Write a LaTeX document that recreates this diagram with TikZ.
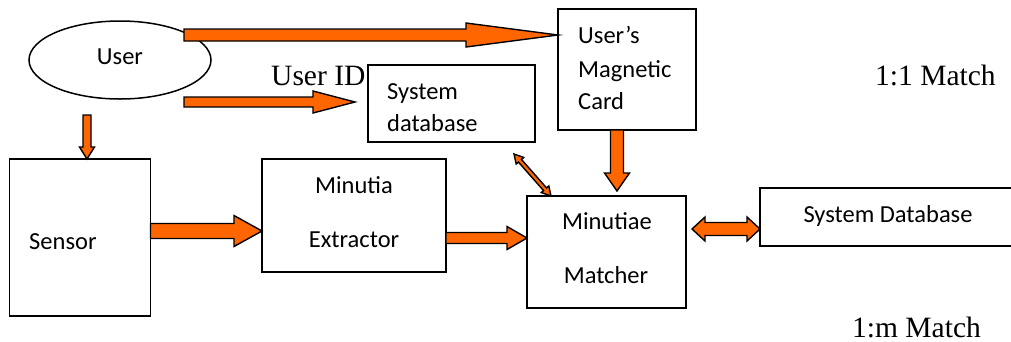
\documentclass[tikz,border=0pt]{standalone}
\usepackage{fontspec}
\usetikzlibrary{calc,shapes.geometric}
\newfontfamily\calfont{Carlito}
\newfontfamily\timesfont{Liberation Serif}
\definecolor{orng}{RGB}{255,102,0}
\newcommand\blockarrow[5]{%
  \coordinate (bah) at ($(#2)!#5!(#1)$);
  \draw[arr] ($(#1)!#3!90:(#2)$) -- ($(bah)!#3!90:(#2)$) -- ($(bah)!#4!90:(#2)$) -- (#2)
    -- ($(bah)!#4!-90:(#2)$) -- ($(bah)!#3!-90:(#2)$) -- ($(#1)!#3!-90:(#2)$) -- cycle;}
\newcommand\dblarrow[5]{%
  \coordinate (dah) at ($(#1)!#5!(#2)$);
  \coordinate (dbh) at ($(#2)!#5!(#1)$);
  \draw[arr] (#1) -- ($(dah)!#4!90:(#2)$) -- ($(dah)!#3!90:(#2)$) -- ($(dbh)!#3!90:(#2)$)
    -- ($(dbh)!#4!90:(#2)$) -- (#2) -- ($(dbh)!#4!-90:(#2)$) -- ($(dbh)!#3!-90:(#2)$)
    -- ($(dah)!#3!-90:(#2)$) -- ($(dah)!#4!-90:(#2)$) -- cycle;}
\begin{document}
\begin{tikzpicture}[x=1pt,y=-1pt,
  box/.style={draw, line width=1.5pt, inner sep=0pt, outer sep=0pt, anchor=north west},
  arr/.style={draw=black, fill=orng, line width=1.4pt, line join=miter},
  ctext/.style={inner sep=0pt, font=\calfont\fontsize{24.5}{30}\selectfont},
  ttext/.style={inner sep=0pt, font=\timesfont\fontsize{29.5}{34}\selectfont}]
\useasboundingbox (0,0) rectangle (1011,341);
% shapes
\node[draw, line width=1.5pt, ellipse, inner sep=0pt, minimum width=182pt, minimum height=78pt] (user) at (120,60) {};
\node[box, minimum width=138pt, minimum height=121pt] (card) at (558,9) {};
\node[box, minimum width=167pt, minimum height=77pt] (sysdb) at (368,65) {};
\node[box, minimum width=141pt, minimum height=157pt] (sensor) at (9.5,159) {};
\node[box, minimum width=184pt, minimum height=113pt] (extractor) at (262,159) {};
\node[box, minimum width=159pt, minimum height=112pt] (matcher) at (527,196) {};
\node[box, minimum width=270pt, minimum height=58pt] (sysdb2) at (760,188) {};
% texts
\node[ctext, anchor=base] (usertxt) at (120,64) {User};
\node[ctext, anchor=base west] (card1) at (578,43) {User’s};
\node[ctext, anchor=base west] (card2) at (578,77) {Magnetic};
\node[ctext, anchor=base west] (card3) at (578,109) {Card};
\node[ctext, anchor=base west] (sys1) at (387,99) {System};
\node[ctext, anchor=base west] (sys2) at (387,131) {database};
\node[ctext, anchor=base west] (sensortxt) at (29,249) {Sensor};
\node[ctext, anchor=base] (ext1) at (354,193) {Minutia};
\node[ctext, anchor=base] (ext2) at (354,247) {Extractor};
\node[ctext, anchor=base] (mat1) at (607,229) {Minutiae};
\node[ctext, anchor=base] (mat2) at (606,283) {Matcher};
\node[ctext, anchor=base] (sysdb2txt) at (888,222) {System Database};
\node[ttext, anchor=base west] (userid) at (271,85) {User ID};
\node[ttext, anchor=base west] (m11) at (875,85) {1:1 Match};
\node[ttext, anchor=base west] (m1m) at (852,337) {1:m Match};
% arrow end points
\coordinate (a1s) at (184,35);
\coordinate (a1e) at ($(card.north west)+(0,26)$);
\coordinate (a2s) at (184,102);
\coordinate (a2e) at (355,102);
\coordinate (a3s) at (87,115);
\coordinate (a3e) at ($(sensor.north west)+(77.5,0)$);
\coordinate (a4s) at ($(sensor.north east)+(0,72)$);
\coordinate (a4e) at ($(extractor.north west)+(0,72)$);
\coordinate (a5s) at ($(extractor.north east)+(0,79)$);
\coordinate (a5e) at ($(matcher.north west)+(0,42)$);
\coordinate (a6s) at ($(card.south)+(-10,0)$);
\coordinate (a6e) at ($(matcher.north west)+(90,-5)$);
\coordinate (a7s) at (514,154);
\coordinate (a7e) at ($(matcher.north west)+(24,0)$);
\coordinate (a8s) at ($(matcher.north east)+(6,33)$);
\coordinate (a8e) at ($(sysdb2.north west)+(0,41)$);
% arrows
\blockarrow{a1s}{a1e}{6pt}{12pt}{92pt}
\blockarrow{a2s}{a2e}{5pt}{11pt}{42pt}
\blockarrow{a3s}{a3e}{4pt}{7.5pt}{12pt}
\blockarrow{a4s}{a4e}{7.5pt}{15.5pt}{28pt}
\blockarrow{a5s}{a5e}{5.5pt}{11.5pt}{20pt}
\blockarrow{a6s}{a6e}{6.5pt}{12.5pt}{18pt}
\dblarrow{a7s}{a7e}{2pt}{5pt}{9pt}
\dblarrow{a8s}{a8e}{6.5pt}{12pt}{13pt}
\end{tikzpicture}
\end{document}
